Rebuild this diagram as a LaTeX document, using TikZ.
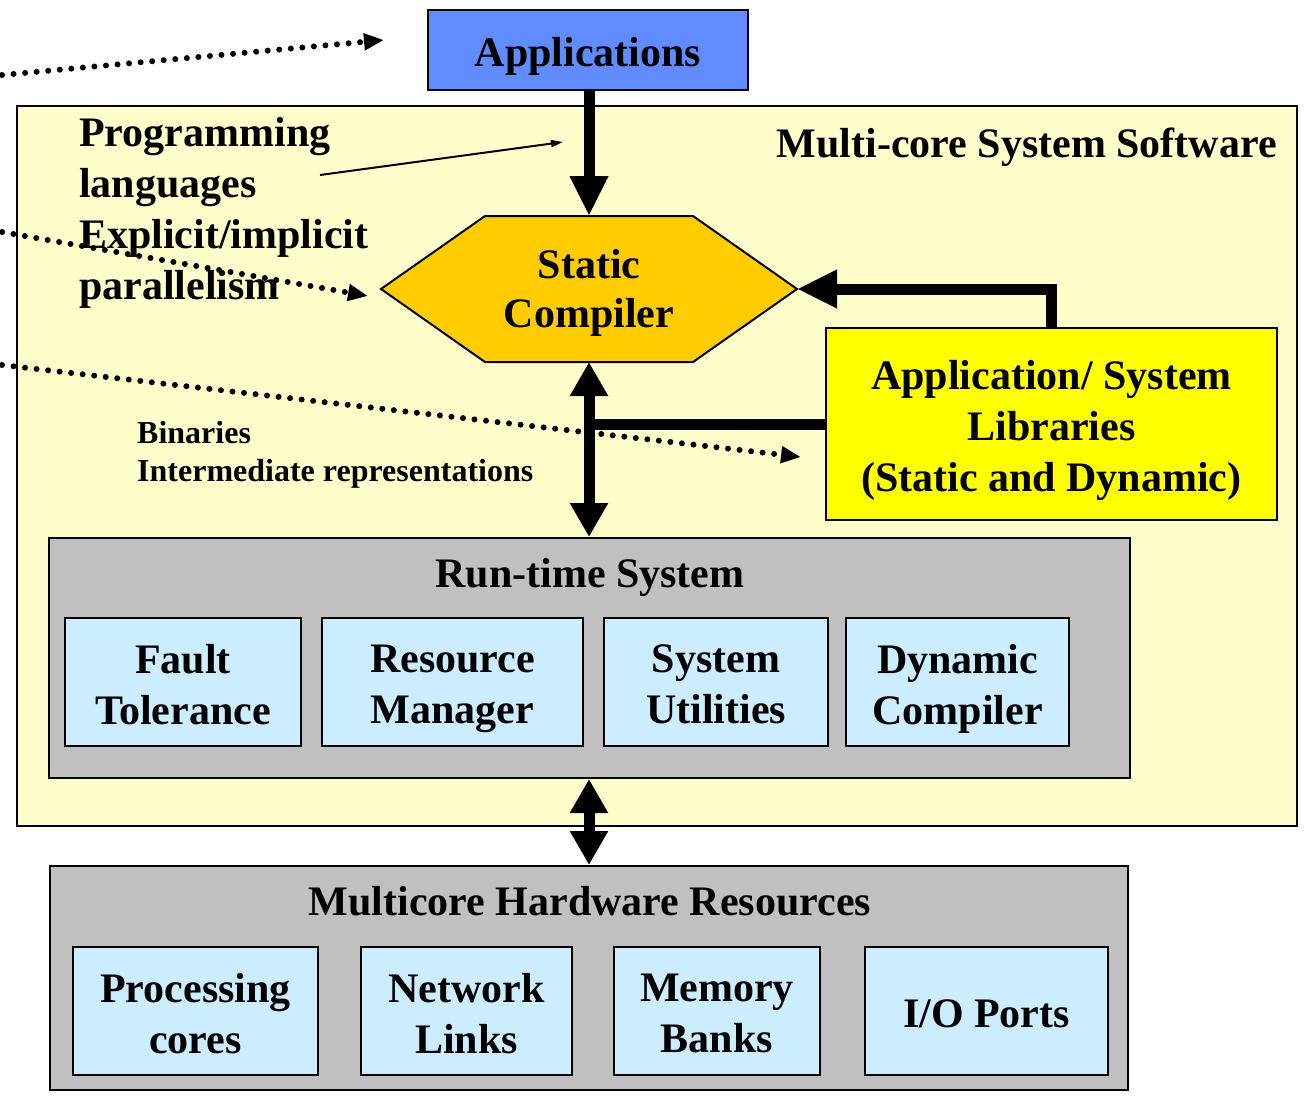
\documentclass[tikz,border=0pt]{standalone}
\usepackage{fontspec}
\setmainfont{Liberation Serif}
\usetikzlibrary{arrows.meta,calc}
\definecolor{appblue}{RGB}{96,140,255}
\definecolor{swpale}{RGB}{255,255,204}
\definecolor{compgold}{RGB}{255,204,0}
\definecolor{libyellow}{RGB}{255,255,0}
\definecolor{sysgray}{RGB}{192,192,192}
\definecolor{unitblue}{RGB}{204,236,255}
\newcommand\lblfont{\fontsize{42}{51}\selectfont\bfseries}
\newcommand\smallfont{\fontsize{32}{38}\selectfont\bfseries}
\begin{document}
\begin{tikzpicture}[x=1pt,y=-1pt,
  % fixed first-line height and last-line depth so text blocks centre alike
  evenlines/.style={execute at begin node={\rule{0pt}{42.6pt}},
                    execute at end node={\rule[-10pt]{0pt}{0pt}}},
  box/.style={draw=black, line width=2pt, inner sep=0pt, font=\lblfont, align=center, evenlines},
  unit/.style={box, fill=unitblue, minimum height=128pt},
  intext/.style={inner sep=0pt, font=\lblfont, align=center, evenlines, yshift=-7pt},
  layer/.style={draw=black, line width=2pt, fill=sysgray, inner sep=0pt},
  label/.style={inner sep=0pt, font=\lblfont, align=left, evenlines},
  bigarrow/.style={line width=11pt, -{Triangle[length=40pt,width=36pt]}},
  bigdouble/.style={line width=11pt, {Triangle[length=34pt,width=36pt]}-{Triangle[length=34pt,width=36pt]}},
  dotarrow/.style={line width=6pt, line cap=round, dash pattern=on 0pt off 11.6pt, -{Triangle[length=20pt,width=16pt]}},
  thinarrow/.style={line width=2pt, -{Triangle[length=12pt,width=7pt]}}
]
\useasboundingbox (0,0) rectangle (1307,1096);

% outer software frame
\node[draw=black, line width=2pt, fill=swpale, minimum width=1280pt, minimum height=720pt, inner sep=0pt] (sw) at (657,466) {};
\node[label, anchor=east] (swtitle) at (1277,141.5) {Multi-core System Software};

% applications on top
\node[box, fill=appblue, minimum width=320pt, minimum height=80pt] (app) at (588,50) {Applications};

% static compiler hexagon
\coordinate (scC) at (589,289);
\coordinate (scN) at (589,216);
\coordinate (scS) at (589,362);
\coordinate (scE) at (797,289);
\coordinate (scW) at (381,289);
\draw[line width=2pt, fill=compgold] (485,216) -- (693,216) -- (scE) -- (693,362) -- (485,362) -- (scW) -- cycle;
\node[label, align=center, font=\fontsize{42}{49}\selectfont\bfseries, yshift=-4pt] (sc) at (scC) {Static\\Compiler};

% libraries
\node[box, fill=libyellow, minimum width=451pt, minimum height=192pt] (lib) at (1051.5,424) {};
\node[intext] (libtext) at (lib) {Application/ System\\Libraries\\(Static and Dynamic)};

% left annotations
\node[label, anchor=west] (lang) at (79,213) {Programming\\languages\\Explicit/implicit\\parallelism};
\node[inner sep=0pt, font=\smallfont, align=left, anchor=west] (bin) at (137,455) {Binaries\\Intermediate representations};

% run-time system
\node[layer, minimum width=1081pt, minimum height=240pt] (rts) at (589.5,658) {};
\node[label] (rtstitle) at (590,571.5) {Run-time System};
\node[unit, minimum width=236pt] (ft) at (183,682) {};
\node[unit, minimum width=261pt] (rm) at (452.5,682) {};
\node[unit, minimum width=224pt] (su) at (716,682) {};
\node[unit, minimum width=223pt] (dc) at (957.5,682) {};
\node[intext] (fttext) at (ft) {Fault\\Tolerance};
\node[intext] (rmtext) at (rm) {Resource\\Manager};
\node[intext] (sutext) at (su) {System\\Utilities};
\node[intext] (dctext) at (dc) {Dynamic\\Compiler};

% hardware resources
\node[layer, minimum width=1078pt, minimum height=224pt] (hw) at (589,978) {};
\node[label] (hwtitle) at (590,899.5) {Multicore Hardware Resources};
\node[unit, minimum width=245pt] (pc) at (195.5,1011) {};
\node[unit, minimum width=211pt] (nl) at (466.5,1011) {};
\node[unit, minimum width=206pt] (mb) at (717,1011) {};
\node[unit, minimum width=243pt] (io) at (986.5,1011) {I/O Ports};
\node[intext] (pctext) at (pc) {Processing\\cores};
\node[intext] (nltext) at (nl) {Network\\Links};
\node[intext] (mbtext) at (mb) {Memory\\Banks};

% thick connectors
\draw[bigarrow] (app.south -| scN) -- (scN);
\draw[bigarrow] (lib.north) |- (scE);
\draw[line width=11pt] (lib.west) -- (lib.west -| scS);
\draw[bigdouble] (scS) -- (scS |- rts.north);
\draw[bigdouble] (scS |- rts.south) -- (scS |- hw.north);

% thin pointer from the language note
\coordinate (langtip) at (563,142);
\draw[thinarrow] (320,175) -- (langtip);

% dotted call-outs entering from the left
\coordinate (d1s) at (2,75);
\coordinate (d1e) at (384,40);
\coordinate (d2s) at (2,232);
\coordinate (d2e) at (368,296);
\coordinate (d3s) at (2,365);
\coordinate (d3e) at (801,457);
\draw[dotarrow] (d1s) -- (d1e);
\draw[dotarrow] (d2s) -- (d2e);
\draw[dotarrow] (d3s) -- (d3e);
\end{tikzpicture}
\end{document}
